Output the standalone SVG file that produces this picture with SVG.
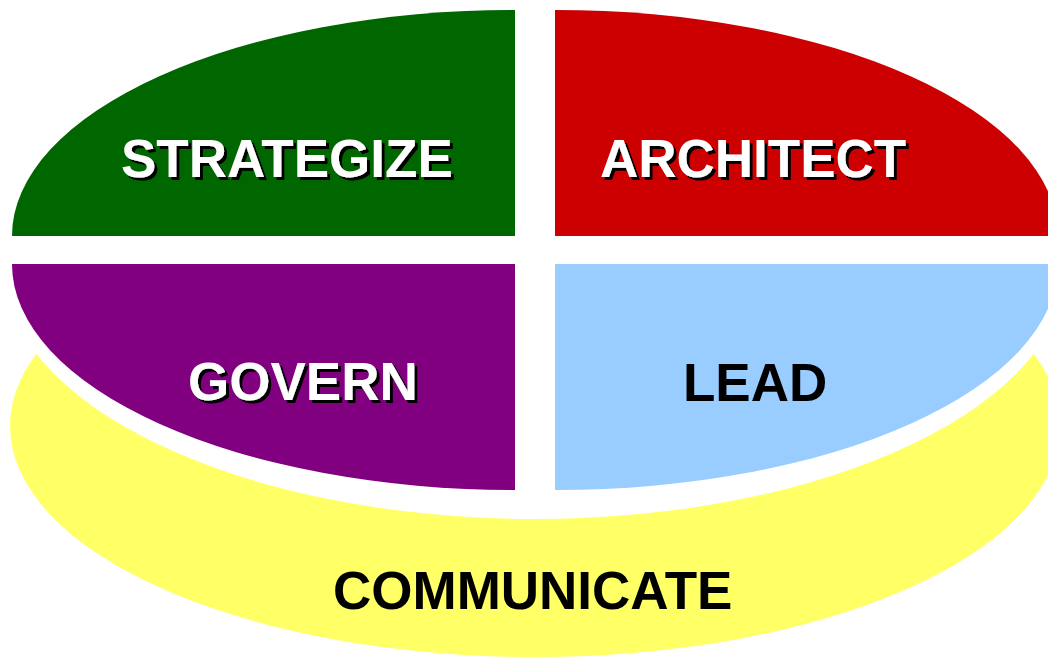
<svg xmlns="http://www.w3.org/2000/svg" width="1048" height="660" viewBox="0 0 1048 660">
<defs>
<filter id="shadow" x="-5%" y="-20%" width="115%" height="150%">
<feDropShadow dx="3" dy="3" stdDeviation="0" flood-color="#000000" flood-opacity="1"/>
</filter>
</defs>
<style>
.t{font-family:"Liberation Sans",Arial,sans-serif;font-weight:bold;font-size:53px}
.w{fill:#ffffff;filter:url(#shadow)}
.k{fill:#000000}
</style>
<rect width="1048" height="660" fill="#ffffff"/>
<g id="communicate">
<ellipse cx="535" cy="426" rx="525" ry="231" fill="#ffff66"/>
<ellipse cx="535" cy="264" rx="533" ry="255" fill="#ffffff"/>
<text class="t k" x="333" y="609">COMMUNICATE</text>
</g>
<g id="strategize">
<path d="M515 236 H12 A503 226 0 0 1 515 10 Z" fill="#006600"/>
<text class="t w" x="121" y="177">STRATEGIZE</text>
</g>
<g id="architect">
<path d="M555 236 V10 A503 226 0 0 1 1058 236 Z" fill="#cc0000"/>
<text class="t w" x="600" y="177">ARCHITECT</text>
</g>
<g id="govern">
<path d="M515 264 H12 A503 226 0 0 0 515 490 Z" fill="#800080"/>
<text class="t w" x="188" y="400">GOVERN</text>
</g>
<g id="lead">
<path d="M555 264 V490 A503 226 0 0 0 1058 264 Z" fill="#99ccff"/>
<text class="t k" x="683" y="401">LEAD</text>
</g>
<g id="connectors"/>
</svg>
